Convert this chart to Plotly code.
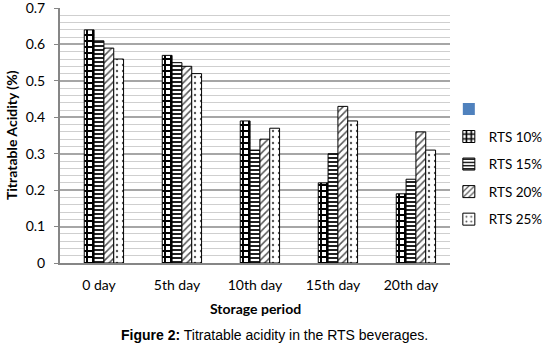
import plotly.graph_objects as go

categories = ["0 day", "5th day", "10th day", "15th day", "20th day"]
series_names = ["RTS 10%", "RTS 15%", "RTS 20%", "RTS 25%"]
rts10 = [0.64, 0.57, 0.39, 0.22, 0.19]
rts15 = [0.61, 0.55, 0.31, 0.30, 0.23]
rts20 = [0.59, 0.54, 0.34, 0.43, 0.36]
rts25 = [0.56, 0.52, 0.37, 0.39, 0.31]
blank = [None, None, None, None, None]

y_ticks = [0, 0.1, 0.2, 0.3, 0.4, 0.5, 0.6, 0.7]
y_tick_labels = ["0", "0.1", "0.2", "0.3", "0.4", "0.5", "0.6", "0.7"]

FONT = "Lato"
fig = go.Figure()

fig.add_trace(go.Bar(x=categories, y=blank, name=" ", legendgroup="g0",
                     marker=dict(color="#4F81BD", line=dict(color="#4F81BD", width=0)),
                     showlegend=True))

patterns = [
    dict(shape="+", fgcolor="black", bgcolor="white", size=6, solidity=0.55),
    dict(shape="-", fgcolor="#222222", bgcolor="white", size=4, solidity=0.5),
    dict(shape="/", fgcolor="#555555", bgcolor="white", size=5, solidity=0.3),
    dict(shape=".", fgcolor="#555555", bgcolor="white", size=6, solidity=0.12),
]
for i, (name, vals) in enumerate(zip(series_names, [rts10, rts15, rts20, rts25])):
    fig.add_trace(go.Bar(
        x=categories, y=vals, name=name, legendgroup=f"g{i+1}",
        marker=dict(color="white", line=dict(color="black", width=1),
                    pattern=dict(fillmode="replace", **patterns[i])),
    ))

fig.update_layout(
    width=547, height=347,
    margin=dict(l=60, r=97, t=8, b=84, autoexpand=False),
    paper_bgcolor="white", plot_bgcolor="white",
    barmode="group", bargap=0.37, bargroupgap=0,
    font=dict(family=FONT, size=14, color="black"),
    showlegend=True,
    legend=dict(x=0.997, y=0.664, xanchor="left", yanchor="top",
                font=dict(family=FONT, size=13.5, color="black"),
                tracegroupgap=7, bgcolor="rgba(0,0,0,0)", itemwidth=30),
    xaxis=dict(showline=True, linecolor="#868686", linewidth=2, ticks="",
               showgrid=False, tickfont=dict(family=FONT, size=14),
               ticklabelstandoff=8, automargin=False),
    yaxis=dict(range=[0, 0.7001], tickvals=y_ticks, ticktext=y_tick_labels,
               showline=True, linecolor="#868686", linewidth=2,
               ticks="outside", ticklen=4, tickcolor="#868686",
               showgrid=True, gridcolor="#A6A6A6", gridwidth=1.5,
               zeroline=False, tickfont=dict(family=FONT, size=14),
               ticklabelstandoff=6, automargin=False, ticklabeloverflow="allow",
               minor=dict(dtick=0.02, showgrid=True, gridcolor="#CFCFCF", gridwidth=1.2)),
    annotations=[
        dict(text="<b>Storage period</b>", xref="paper", yref="paper",
             x=0.5, y=-0.18, xanchor="center", yanchor="middle", showarrow=False,
             font=dict(family=FONT, size=14, color="black")),
        dict(text="<b>Titratable Acidity (%)</b>", xref="paper", yref="paper",
             x=-0.123, y=0.502, xanchor="center", yanchor="middle", textangle=-90,
             showarrow=False, font=dict(family=FONT, size=14, color="black")),
        dict(text="<b>Figure 2:</b> Titratable acidity in the RTS beverages.",
             xref="paper", yref="paper", x=0.55, y=-0.282, xanchor="center",
             yanchor="middle", showarrow=False,
             font=dict(family="Liberation Sans", size=14, color="black")),
    ],
)

fig.write_html("out.html", config={"displayModeBar": False},
               post_script="document.body.style.margin='0';document.body.style.padding='0';")
